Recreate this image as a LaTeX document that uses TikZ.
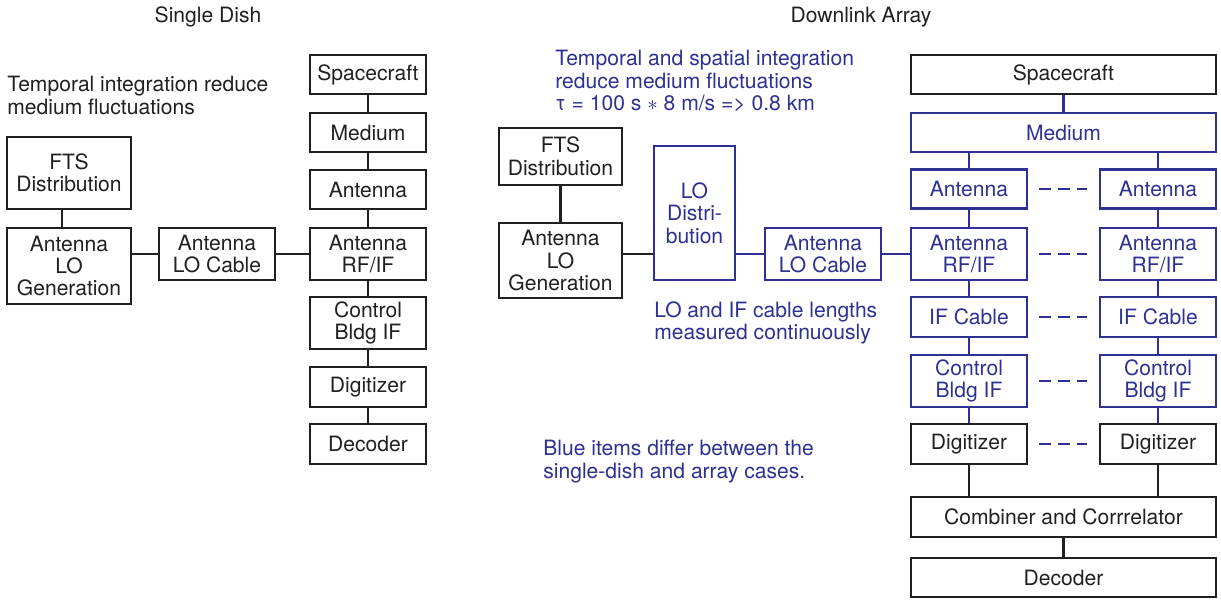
\documentclass[tikz,border=0pt]{standalone}
\usepackage{fontspec}
\setmainfont{TeX Gyre Heros}
\usetikzlibrary{calc}
\definecolor{bl}{RGB}{46,49,146}
\definecolor{ink}{RGB}{35,31,32}
\begin{document}
\begin{tikzpicture}[x=0.02cm,y=-0.02cm, font=\fontsize{12}{12.8}\selectfont,
  box/.style={draw=ink, line width=1.3pt, text=ink, align=center, inner sep=0pt},
  bbox/.style={box, draw=bl, text=bl},
  wire/.style={draw=ink, line width=1.3pt},
  bwire/.style={wire, draw=bl},
  dots/.style={bwire, dash pattern=on 6.8pt off 4pt},
  note/.style={align=left, anchor=north west, inner sep=0pt, text=ink},
  bnote/.style={note, text=bl}]
\useasboundingbox (0,0) rectangle (1221,600);

% ---------- Single dish ----------
\node[anchor=base, text=ink] (t1) at (208,22) {Single Dish};
\node[note] (n1) at (7,76) {Temporal integration reduce\\medium fluctuations};

\node[box, minimum width=2.48cm, minimum height=1.44cm] (fts1) at (69,173) {FTS\\Distribution};
\node[box, minimum width=2.48cm, minimum height=1.52cm] (log1) at (69,266) {Antenna\\LO\\Generation};
\node[box, minimum width=2.32cm, minimum height=1.04cm] (cab1) at (217,254) {Antenna\\LO Cable};
\node[box, minimum width=2.32cm, minimum height=0.78cm] (sc1) at (368,74.5) {Spacecraft};
\node[box, minimum width=2.32cm, minimum height=0.78cm] (med1) at (368,132.5) {Medium};
\node[box, minimum width=2.32cm, minimum height=0.78cm] (ant1) at (368,189.5) {Antenna};
\node[box, minimum width=2.32cm, minimum height=1.04cm] (rf1) at (368,254) {Antenna\\RF/IF};
\node[box, minimum width=2.32cm, minimum height=1.04cm] (ctl1) at (368,323) {Control\\Bldg IF};
\node[box, minimum width=2.32cm, minimum height=0.80cm] (dig1) at (368,387) {Digitizer};
\node[box, minimum width=2.32cm, minimum height=0.80cm] (dec1) at (368,444) {Decoder};

\coordinate (x62) at (62,0);
\draw[wire] (fts1.south -| x62) -- (log1.north -| x62);
\draw[wire] (log1.east |- cab1.west) -- (cab1.west);
\draw[wire] (cab1.east) -- (rf1.west);
\draw[wire] (sc1) -- (med1);
\draw[wire] (med1) -- (ant1);
\draw[wire] (ant1) -- (rf1);
\draw[wire] (rf1) -- (ctl1);
\draw[wire] (ctl1) -- (dig1);
\draw[wire] (dig1) -- (dec1);

% ---------- Downlink array ----------
\node[anchor=base, text=ink] (t2) at (861,22) {Downlink Array};
\node[bnote] (n2) at (555,50) {Temporal and spatial integration\\reduce medium fluctuations\\τ = 100 s $\ast$ 8 m/s => 0.8 km};
\node[bnote] (n3) at (654,301) {LO and IF cable lengths\\measured continuously};
\node[bnote] (n4) at (543,440) {Blue items differ between the\\single-dish and array cases.};

\node[box, minimum width=2.46cm, minimum height=1.14cm] (fts2) at (560.5,156.5) {FTS\\Distribution};
\node[box, minimum width=2.46cm, minimum height=1.50cm] (log2) at (560.5,260.5) {Antenna\\LO\\Generation};
\node[bbox, minimum width=1.62cm, minimum height=2.68cm] (lod) at (694.5,213) {LO\\Distri-\\bution};
\node[bbox, minimum width=2.32cm, minimum height=1.04cm] (cab2) at (823,254) {Antenna\\LO Cable};

\node[box, minimum width=6.10cm, minimum height=0.78cm] (sc2) at (1063.5,74.5) {Spacecraft};
\node[bbox, minimum width=6.10cm, minimum height=0.78cm] (med2) at (1063.5,132.5) {Medium};

\node[bbox, minimum width=2.32cm, minimum height=0.78cm] (anta) at (969,189) {Antenna};
\node[bbox, minimum width=2.32cm, minimum height=0.78cm] (antb) at (1158,189) {Antenna};
\node[bbox, minimum width=2.32cm, minimum height=1.04cm] (rfa) at (969,254) {Antenna\\RF/IF};
\node[bbox, minimum width=2.32cm, minimum height=1.04cm] (rfb) at (1158,254) {Antenna\\RF/IF};
\node[bbox, minimum width=2.32cm, minimum height=0.80cm] (ifa) at (969,317) {IF Cable};
\node[bbox, minimum width=2.32cm, minimum height=0.80cm] (ifb) at (1158,317) {IF Cable};
\node[bbox, minimum width=2.32cm, minimum height=1.04cm] (ctla) at (969,381) {Control\\Bldg IF};
\node[bbox, minimum width=2.32cm, minimum height=1.04cm] (ctlb) at (1158,381) {Control\\Bldg IF};
\node[box, minimum width=2.32cm, minimum height=0.80cm] (diga) at (969,444) {Digitizer};
\node[box, minimum width=2.32cm, minimum height=0.80cm] (digb) at (1158,444) {Digitizer};
\node[box, minimum width=6.10cm, minimum height=0.80cm] (comb) at (1063.5,517) {Combiner and Corrrelator};
\node[box, minimum width=6.10cm, minimum height=0.78cm] (dec2) at (1063.5,577.5) {Decoder};

\draw[wire] (fts2) -- (log2);
\draw[wire] (log2.east |- cab2.west) -- (lod.west |- cab2.west);
\draw[bwire] (lod.east |- cab2.west) -- (cab2.west);
\draw[bwire] (cab2.east) -- (rfa.west);

\draw[bwire] (sc2) -- (med2);
\draw[bwire] (med2.south -| anta) -- (anta);
\draw[bwire] (med2.south -| antb) -- (antb);
\draw[bwire] (anta) -- (rfa);
\draw[bwire] (antb) -- (rfb);
\draw[bwire] (rfa) -- (ifa);
\draw[bwire] (rfb) -- (ifb);
\draw[bwire] (ifa) -- (ctla);
\draw[bwire] (ifb) -- (ctlb);
\draw[bwire] (ctla) -- (diga);
\draw[bwire] (ctlb) -- (digb);
\draw[wire] (diga) -- (comb.north -| diga);
\draw[wire] (digb) -- (comb.north -| digb);
\draw[wire] (comb) -- (dec2);

\foreach \a/\b in {anta/antb, rfa/rfb, ifa/ifb, ctla/ctlb, diga/digb}
  \draw[dots] ($(\a.east)+(11,0)$) -- ($(\b.west)+(-12,0)$);
\end{tikzpicture}
\end{document}
